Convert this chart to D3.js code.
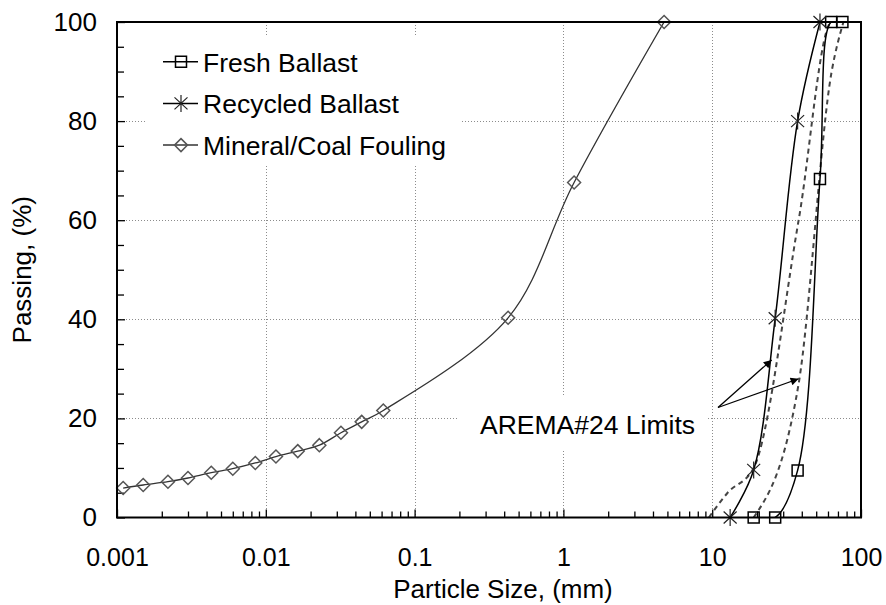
<!DOCTYPE html>
<html>
<head>
<meta charset="utf-8">
<script src="https://cdn.jsdelivr.net/npm/d3@7"></script>
<style>
  html, body { margin: 0; padding: 0; background: #fff; }
  svg { display: block; font-family: "Liberation Sans", Arial, sans-serif; }
</style>
</head>
<body>
<svg id="chart" width="886" height="605"></svg>
<script>
// Particle size distributions: sieve size (mm) vs. percent passing
const freshSize = [19, 26.5, 37.5, 53, 63, 75];
const freshPass = [0, 0, 9.5, 68.3, 100, 100];

const recycledSize = [13.2, 19, 26.5, 37.5, 53];
const recycledPass = [0, 9.6, 40.2, 80, 100];

const foulingSize = [0.0011, 0.0015, 0.0022, 0.0030, 0.0043, 0.0060, 0.0085, 0.0117,
                     0.0164, 0.0229, 0.0320, 0.0441, 0.0616, 0.425, 1.18, 4.75];
const foulingPass = [5.95, 6.56, 7.22, 7.97, 9.04, 9.85, 11.0, 12.3,
                     13.4, 14.6, 17.1, 19.3, 21.6, 40.3, 67.6, 100];

// AREMA No. 24 gradation band (upper / lower limits)
const aremaUpperSize = [9.5, 12.7, 19, 38.1, 63.5, 76.2];
const aremaUpperPass = [0, 5, 10, 60, 100, 100];
const aremaLowerSize = [19, 38.1, 63.5, 76.2];
const aremaLowerPass = [0, 27, 90, 100];

// Axis ticks and labels
const xTicks = [0.001, 0.01, 0.1, 1, 10, 100];
const xTickLabels = ["0.001", "0.01", "0.1", "1", "10", "100"];
const yTicks = [0, 20, 40, 60, 80, 100];
const yTickLabels = ["0", "20", "40", "60", "80", "100"];
const xTitle = "Particle Size, (mm)";
const yTitle = "Passing, (%)";

const seriesNames = ["Fresh Ballast", "Recycled Ballast", "Mineral/Coal Fouling"];

// Annotation pointing at the limit curves (size mm, % passing)
const annotationText = "AREMA#24 Limits";
const arrowFrom = [10.94, 22.2];
const arrowTips = [[25.1, 31.8], [38.1, 28.0]];

// ---------------------------------------------------------------------------
const L = 117, T = 22, R = 861, B = 517.5;
const FONT = 26;
const LABEL_FONT = 26.5;
const TICK_FONT = 25;

const svg = d3.select("#chart");
const x = d3.scaleLog().domain([0.001, 100]).range([L, R]);
const y = d3.scaleLinear().domain([0, 100]).range([B, T]);

const zip = (xs, ys) => xs.map((v, i) => [v, ys[i]]);
const fresh = zip(freshSize, freshPass);
const recycled = zip(recycledSize, recycledPass);
const fouling = zip(foulingSize, foulingPass);
const upper = zip(aremaUpperSize, aremaUpperPass);
const lower = zip(aremaLowerSize, aremaLowerPass);

const defs = svg.append("defs");
defs.append("clipPath").attr("id", "plotClip")
  .append("rect").attr("x", L).attr("y", T).attr("width", R - L).attr("height", B - T);
defs.append("marker")
  .attr("id", "arrowhead")
  .attr("viewBox", "0 0 10 10")
  .attr("refX", 10).attr("refY", 5)
  .attr("markerUnits", "userSpaceOnUse")
  .attr("markerWidth", 11).attr("markerHeight", 8)
  .attr("orient", "auto")
  .append("path").attr("d", "M0,0L10,5L0,10Z").attr("fill", "#000");

// Dotted grid at decades and every 20 %
const grid = svg.append("g")
  .attr("stroke", "#8c8c8c").attr("stroke-width", 1).attr("stroke-dasharray", "1,2");
grid.selectAll("line.v").data(xTicks.slice(1, -1)).join("line")
  .attr("class", "v")
  .attr("x1", d => Math.round(x(d)) + 0.5).attr("x2", d => Math.round(x(d)) + 0.5)
  .attr("y1", T).attr("y2", B);
grid.selectAll("line.h").data(yTicks.slice(1, -1)).join("line")
  .attr("class", "h")
  .attr("x1", L).attr("x2", R)
  .attr("y1", d => Math.round(y(d)) + 0.5).attr("y2", d => Math.round(y(d)) + 0.5);

// White panels behind the legend and the annotation text
svg.append("rect").attr("x", 145).attr("y", 37).attr("width", 317).attr("height", 128).attr("fill", "#fff");
svg.append("rect").attr("x", 457).attr("y", 397).attr("width", 251).attr("height", 53).attr("fill", "#fff");

// Minor ticks (inside the frame)
const xMinor = [];
for (let d = 0.001; d < 99; d *= 10) for (let k = 2; k <= 9; k++) xMinor.push(+(d * k).toPrecision(3));
const yMinor = d3.range(5, 100, 5).filter(v => v % 20 !== 0);

const xAxisMinor = svg.append("g").attr("transform", `translate(0,${B})`)
  .call(d3.axisBottom(x).tickValues(xMinor).tickSize(-6).tickFormat(""));
const xAxis = svg.append("g").attr("transform", `translate(0,${B})`)
  .call(d3.axisBottom(x).tickValues(xTicks).tickSize(-8).tickPadding(31)
    .tickFormat(d => xTickLabels[xTicks.indexOf(d)]));
const yAxisMinor = svg.append("g").attr("transform", `translate(${L},0)`)
  .call(d3.axisLeft(y).tickValues(yMinor).tickSize(-7).tickFormat(""));
const yAxis = svg.append("g").attr("transform", `translate(${L},0)`)
  .call(d3.axisLeft(y).tickValues(yTicks).tickSize(-8).tickPadding(20)
    .tickFormat(d => yTickLabels[yTicks.indexOf(d)]));

[xAxisMinor, xAxis, yAxisMinor, yAxis].forEach(g => {
  g.attr("font-family", null).attr("font-size", g === yAxis ? FONT : TICK_FONT);
  g.select(".domain").remove();
  g.selectAll(".tick line").attr("stroke", "#000").attr("stroke-width", 1.3);
  g.selectAll("text").attr("fill", "#000");
});

// Axis titles
svg.append("text").attr("x", 503).attr("y", 598).attr("text-anchor", "middle")
  .attr("font-size", FONT).text(xTitle);
svg.append("text").attr("transform", `translate(31,${(T + B) / 2}) rotate(-90)`)
  .attr("text-anchor", "middle").attr("font-size", FONT).text(yTitle);

// Curves: smoothed gradation curves, monotone limit envelopes
const line = d3.line().x(d => x(d[0])).y(d => y(d[1])).curve(d3.curveCatmullRom.alpha(0.5));
const limitLine = d3.line().x(d => x(d[0])).y(d => y(d[1])).curve(d3.curveMonotoneX);
const curves = svg.append("g").attr("clip-path", "url(#plotClip)").attr("fill", "none");

curves.append("path").datum(upper).attr("d", limitLine)
  .attr("stroke", "#444").attr("stroke-width", 2).attr("stroke-dasharray", "5,4");
curves.append("path").datum(lower).attr("d", limitLine)
  .attr("stroke", "#444").attr("stroke-width", 2).attr("stroke-dasharray", "5,4");
curves.append("path").datum(fouling).attr("d", line)
  .attr("stroke", "#333").attr("stroke-width", 1.3);
curves.append("path").datum(fresh).attr("d", line)
  .attr("stroke", "#000").attr("stroke-width", 1.5);
curves.append("path").datum(recycled).attr("d", line)
  .attr("stroke", "#000").attr("stroke-width", 1.5);

// Marker shapes
const squarePath = "M-5.5,-5.5H5.5V5.5H-5.5Z";
const starPath = "M0,-8.5V8.5M-6.5,-6L6.5,6M-6.5,6L6.5,-6";
const diamondPath = "M0,-6.5L6.5,0L0,6.5L-6.5,0Z";

const marks = svg.append("g").attr("fill", "none");
marks.selectAll("path.fresh").data(fresh).join("path").attr("class", "fresh")
  .attr("transform", d => `translate(${x(d[0])},${y(d[1])})`)
  .attr("d", squarePath).attr("stroke", "#000").attr("stroke-width", 1.5);
marks.selectAll("path.recycled").data(recycled).join("path").attr("class", "recycled")
  .attr("transform", d => `translate(${x(d[0])},${y(d[1])})`)
  .attr("d", starPath).attr("stroke", "#222").attr("stroke-width", 1.2);
marks.selectAll("path.fouling").data(fouling).join("path").attr("class", "fouling")
  .attr("transform", d => `translate(${x(d[0])},${y(d[1])})`)
  .attr("d", diamondPath).attr("stroke", "#555").attr("stroke-width", 1.5);

// Plot frame
svg.append("rect").attr("x", L).attr("y", T).attr("width", R - L).attr("height", B - T)
  .attr("fill", "none").attr("stroke", "#000").attr("stroke-width", 2);

// Legend
const legendStyles = [
  { shape: squarePath, stroke: "#000", sw: 1.5 },
  { shape: starPath, stroke: "#222", sw: 1.2 },
  { shape: diamondPath, stroke: "#555", sw: 1.5 }
];
const legend = svg.append("g");
const rows = legend.selectAll("g").data(seriesNames).join("g")
  .attr("transform", (d, i) => `translate(0,${61.7 + i * 41.7})`);
rows.append("line").attr("x1", 163).attr("x2", 198).attr("y1", 0).attr("y2", 0)
  .attr("stroke", (d, i) => i === 2 ? "#333" : "#000").attr("stroke-width", 1.5);
rows.append("path").attr("transform", "translate(181,0)")
  .attr("d", (d, i) => legendStyles[i].shape).attr("fill", "none")
  .attr("stroke", (d, i) => legendStyles[i].stroke).attr("stroke-width", (d, i) => legendStyles[i].sw);
rows.append("text").attr("x", 203).attr("y", 10).attr("font-size", LABEL_FONT).attr("fill", "#000")
  .text(d => d);

// Annotation with arrows to the limit curves
svg.append("text").attr("x", 480).attr("y", 434).attr("font-size", LABEL_FONT).attr("fill", "#000")
  .text(annotationText);
svg.append("g").selectAll("line").data(arrowTips).join("line")
  .attr("x1", x(arrowFrom[0])).attr("y1", y(arrowFrom[1]))
  .attr("x2", d => x(d[0])).attr("y2", d => y(d[1]))
  .attr("stroke", "#000").attr("stroke-width", 1.3)
  .attr("marker-end", "url(#arrowhead)");
</script>
</body>
</html>
